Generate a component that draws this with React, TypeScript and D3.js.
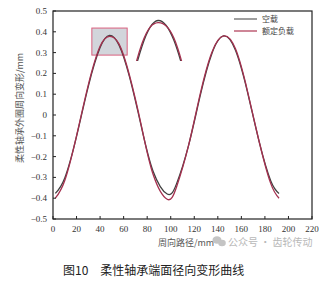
import React from "react";
import * as d3 from "d3";

const xs = [2, 10, 20, 30, 40, 48, 56, 65, 75, 85, 97, 105, 115, 125, 135, 145, 155, 165, 175, 185, 192];
const emptyLoad = [-0.377, -0.303, -0.103, 0.138, 0.324, 0.383, 0.337, 0.183, -0.055, -0.27, -0.38, -0.33, -0.15, 0.092, 0.296, 0.38, 0.311, 0.115, -0.126, -0.317, -0.377];
const ratedLoad = [-0.4, -0.315, -0.1, 0.145, 0.33, 0.378, 0.342, 0.19, -0.05, -0.285, -0.405, -0.345, -0.15, 0.1, 0.302, 0.38, 0.318, 0.12, -0.125, -0.33, -0.4];
const xTicks = [0, 20, 40, 60, 80, 100, 120, 140, 160, 180, 200, 220];
const yTicks = [0.5, 0.4, 0.3, 0.2, 0.1, 0, -0.1, -0.2, -0.3, -0.4, -0.5];
const seriesNames = ["空载", "额定负载"];
const zoomBox = { x0: 33, x1: 63, y0: 0.288, y1: 0.418 };

const W = 332, H = 291;
const L = 53, R = 312, T = 11, B = 219;
const cGray = "#404040";
const cRed = "#a5304f";

export default function App() {
  const x = d3.scaleLinear().domain([0, 220]).range([L, R]);
  const y = d3.scaleLinear().domain([-0.5, 0.5]).range([B, T]);
  const ix = d3.scaleLinear().domain([37.5, 59.5]).range([137, 181]);
  const iy = d3.scaleLinear().domain([0.29, 0.383]).range([61, 20.5]);

  const mk = (sx: any, sy: any) =>
    d3.line<number>().x((_, i) => sx(xs[i])).y((v) => sy(v)).curve(d3.curveNatural);
  const main = mk(x, y);
  const inset = mk(ix, iy);
  const serif = "'Liberation Serif', 'DejaVu Serif', serif";
  const cjk = "'Noto Sans CJK SC', sans-serif";

  return (
    <svg width={W} height={H} style={{ position: "absolute", left: 0, top: 0, background: "#fff" }}>
      <defs>
        <clipPath id="plotclip">
          <rect x={L} y={T} width={R - L} height={B - T} />
        </clipPath>
        <clipPath id="insetclip">
          <rect x={125} y={14} width={70} height={47} />
        </clipPath>
      </defs>
      <rect
        x={x(zoomBox.x0)}
        y={y(zoomBox.y1)}
        width={x(zoomBox.x1) - x(zoomBox.x0)}
        height={y(zoomBox.y0) - y(zoomBox.y1)}
        fill="#d2d5db"
        stroke="#d9607f"
        strokeWidth={1}
      />
      <g clipPath="url(#plotclip)" fill="none" strokeWidth={1.3}>
        <path d={main(emptyLoad) || ""} stroke={cGray} />
        <path d={main(ratedLoad) || ""} stroke={cRed} />
      </g>
      <g clipPath="url(#insetclip)" fill="none" strokeWidth={1.3}>
        <path d={inset(emptyLoad) || ""} stroke={cGray} />
        <path d={inset(ratedLoad) || ""} stroke={cRed} />
      </g>
      {/* frame */}
      <rect x={L} y={T} width={R - L} height={B - T} fill="none" stroke="#222" strokeWidth={1.2} />
      {xTicks.map((t) => (
        <g key={"x" + t}>
          <line x1={x(t)} x2={x(t)} y1={B} y2={B - 3} stroke="#222" />
          <text x={x(t)} y={232} fontSize={9} fontFamily={serif} textAnchor="middle" fill="#333">
            {t}
          </text>
        </g>
      ))}
      {yTicks.map((t) => (
        <g key={"y" + t}>
          <line x1={L} x2={L + 3} y1={y(t)} y2={y(t)} stroke="#222" />
          <text x={47} y={y(t) + 3} fontSize={9} fontFamily={serif} textAnchor="end" fill="#333">
            {t < 0 ? "−" + Math.abs(t).toFixed(1) : t === 0 ? "0" : t.toFixed(1)}
          </text>
        </g>
      ))}
      {/* legend */}
      <line x1={234} x2={257} y1={19} y2={19} stroke="#6a6a6a" strokeWidth={1.3} />
      <text x={262} y={22} fontSize={8} fontFamily={cjk} fill="#444">{seriesNames[0]}</text>
      <line x1={234} x2={257} y1={31} y2={31} stroke="#b4455f" strokeWidth={1.3} />
      <text x={262} y={34} fontSize={8} fontFamily={cjk} fill="#444">{seriesNames[1]}</text>
      {/* axis labels */}
      <text
        transform="translate(23,108) rotate(-90)"
        fontSize={9}
        fontFamily={cjk}
        textAnchor="middle"
        fill="#555"
      >
        柔性轴承外圈周向变形/mm
      </text>
      <text x={186} y={246} fontSize={9} fontFamily={cjk} textAnchor="middle" fill="#555">
        周向路径/mm
      </text>
      {/* watermark */}
      <g fill="#c4c4c4">
        <ellipse cx={217} cy={240} rx={4.5} ry={3.8} />
        <ellipse cx={222} cy={243} rx={3.8} ry={3.2} />
      </g>
      <text x={228} y={246} fontSize={10} fontFamily={cjk} fill="#b8b8b8">
        公众号 · 齿轮传动
      </text>
      {/* caption */}
      <text x={63} y={275} fontSize={12} fontFamily={cjk} fill="#222">
        图10　柔性轴承端面径向变形曲线
      </text>
    </svg>
  );
}
